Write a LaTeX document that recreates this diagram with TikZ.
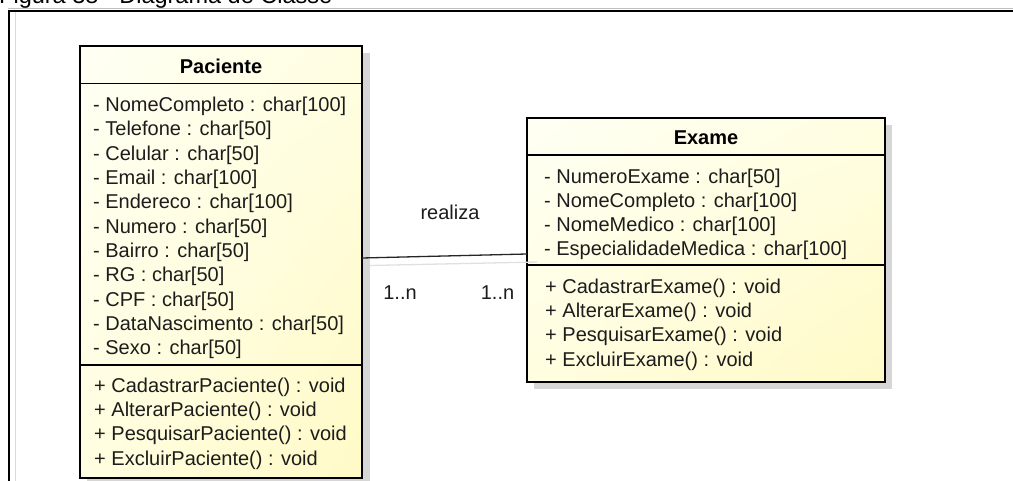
\documentclass[tikz,border=0pt]{standalone}
\usepackage{fontspec}
\setmainfont{Liberation Sans}
\usetikzlibrary{shadings}
\definecolor{fillUL}{HTML}{FFFFF4}
\definecolor{fillUR}{HTML}{FFFEE2}
\definecolor{fillLL}{HTML}{FFFEE0}
\definecolor{fillLR}{HTML}{FFFAC6}
\definecolor{shadowc}{HTML}{D6D6D6}
\definecolor{txt}{HTML}{1C1C1C}
\tikzset{
  classbox/.style={rectangle, draw=black, line width=2.3pt, inner sep=0pt, outer sep=0pt,
    upper left=fillUL, upper right=fillUR, lower left=fillLL, lower right=fillLR},
  boxshadow/.style={fill=shadowc},
  divider/.style={draw=black, line width=1.2pt},
  member/.style={anchor=base west, inner sep=0pt, text=txt, font=\fontsize{20}{24}\selectfont},
  classname/.style={anchor=base, inner sep=0pt, text=black, font=\fontsize{20}{24}\selectfont\bfseries},
  assoc/.style={draw=black!85, line width=1.3pt},
  assocshadow/.style={draw=black!12, line width=1.3pt},
  lbl/.style={anchor=base, inner sep=0pt, text=txt, font=\fontsize{20}{24}\selectfont},
}
\begin{document}
\begin{tikzpicture}[x=1pt,y=-1pt]
\useasboundingbox (0,0) rectangle (1013,481);
\clip (0,0) rectangle (1013,481);

% page frame and caption
\node[anchor=base west, inner sep=0pt, font=\fontsize{23.5}{28}\selectfont] (caption) at (-1,4) {Figura 38 - Diagrama de Classe};
\draw[black!25, line width=1pt] (8,8.8) -- (1013,8.8);
\draw[black!14, line width=1.6pt] (15.6,12) -- (15.6,481);
\draw[black, line width=2pt] (8.8,481) -- (8.8,10.8) -- (1013,10.8);

% drop shadows
\fill[boxshadow] (87,53) rectangle (370,486);
\fill[boxshadow] (534,125) rectangle (892,389);

% class Paciente
\node[classbox, minimum width=282pt, minimum height=432pt] (pac) at (221,262) {};
\draw[divider] (pac.west |- 0,83.5) -- (pac.east |- 0,83.5);
\draw[divider] (pac.west |- 0,365) -- (pac.east |- 0,365);
\node[classname] (pacname) at (221,73.5) {Paciente};
\node[member] (pa1) at (93,111.7) {- NomeCompleto : char[100]};
\node[member] (pa2) at (93,136) {- Telefone : char[50]};
\node[member] (pa3) at (93,160.3) {- Celular : char[50]};
\node[member] (pa4) at (93,184.6) {- Email : char[100]};
\node[member] (pa5) at (93,208.9) {- Endereco : char[100]};
\node[member] (pa6) at (93,233.2) {- Numero : char[50]};
\node[member] (pa7) at (93,257.5) {- Bairro : char[50]};
\node[member] (pa8) at (93,281.8) {- RG : char[50]};
\node[member] (pa9) at (93,306.1) {- CPF : char[50]};
\node[member] (pa10) at (93,330.4) {- DataNascimento : char[50]};
\node[member] (pa11) at (93,354.7) {- Sexo : char[50]};
\node[member] (pm1) at (94,392.3) {+ CadastrarPaciente() : void};
\node[member] (pm2) at (94,416.6) {+ AlterarPaciente() : void};
\node[member] (pm3) at (94,440.9) {+ PesquisarPaciente() : void};
\node[member] (pm4) at (94,465.2) {+ ExcluirPaciente() : void};

% class Exame
\node[classbox, minimum width=358pt, minimum height=264pt] (exa) at (706,250) {};
\draw[divider] (exa.west |- 0,155) -- (exa.east |- 0,155);
\draw[divider] (exa.west |- 0,265) -- (exa.east |- 0,265);
\node[classname] (exaname) at (706,144.3) {Exame};
\node[member] (ea1) at (544,184) {- NumeroExame : char[50]};
\node[member] (ea2) at (544,208) {- NomeCompleto : char[100]};
\node[member] (ea3) at (544,232) {- NomeMedico : char[100]};
\node[member] (ea4) at (544,256) {- EspecialidadeMedica : char[100]};
\node[member] (em1) at (545,293.3) {+ CadastrarExame() : void};
\node[member] (em2) at (545,317.6) {+ AlterarExame() : void};
\node[member] (em3) at (545,341.9) {+ PesquisarExame() : void};
\node[member] (em4) at (545,366.2) {+ ExcluirExame() : void};

% association realiza, 1..n to 1..n
\draw[assocshadow] ([xshift=8pt]pac.east |- 0,265.5) -- ([xshift=10pt]exa.west |- 0,262);
\draw[assoc] (pac.east |- 0,258) -- (exa.west |- 0,254);
\node[lbl] (rel) at (450,220) {realiza};
\node[lbl] (m1) at (400,300) {1..n};
\node[lbl] (m2) at (497.5,300) {1..n};
\end{tikzpicture}
\end{document}
